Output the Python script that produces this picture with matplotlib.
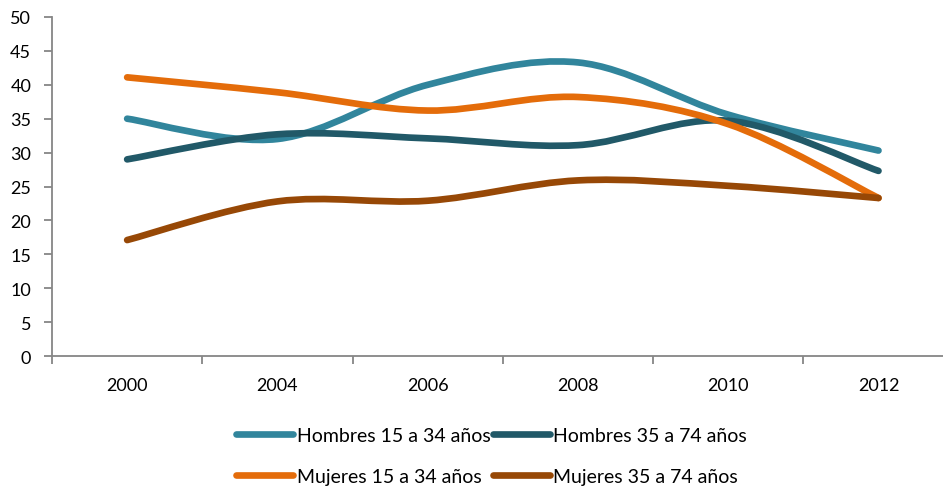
import numpy as np
import matplotlib
matplotlib.use("Agg")
import matplotlib.pyplot as plt
from matplotlib.path import Path
from matplotlib.patches import PathPatch
from matplotlib.lines import Line2D

plt.rcParams['font.family'] = ['Lato', 'DejaVu Sans']

years = ["2000", "2004", "2006", "2008", "2010", "2012"]
hombres_15_34 = [35.0, 32.0, 40.0, 43.3, 35.6, 30.3]
hombres_35_74 = [29.0, 32.7, 32.1, 31.1, 34.7, 27.3]
mujeres_15_34 = [41.1, 38.9, 36.2, 38.2, 34.2, 23.3]
mujeres_35_74 = [17.1, 22.8, 22.9, 25.9, 25.1, 23.3]

labels = ["Hombres 15 a 34 años", "Hombres 35 a 74 años",
          "Mujeres 15 a 34 años", "Mujeres 35 a 74 años"]
colors = ["#31859C", "#215968", "#E46C0A", "#974806"]
series = [hombres_15_34, hombres_35_74, mujeres_15_34, mujeres_35_74]

W, H = 943, 489
fig = plt.figure(figsize=(W / 100, H / 100), dpi=100)
ax = fig.add_axes([52 / W, 1 - 357 / H, 1 - 52 / W, (357 - 18) / H])

LW = 4.8


def smooth_path(xs, ys):
    """Cubic Bezier path through the points (Catmull-Rom style smoothing)."""
    pts = np.column_stack([xs, ys]).astype(float)
    n = len(pts)
    verts = [pts[0]]
    codes = [Path.MOVETO]
    for i in range(n - 1):
        p0 = pts[i - 1] if i > 0 else pts[i]
        p1 = pts[i]
        p2 = pts[i + 1]
        p3 = pts[i + 2] if i + 2 < n else pts[i + 1]
        c1 = p1 + (p2 - p0) / 6.0
        c2 = p2 - (p3 - p1) / 6.0
        verts += [c1, c2, p2]
        codes += [Path.CURVE4] * 3
    return Path(verts, codes)


x = np.arange(len(years))
for vals, col in zip(series, colors):
    patch = PathPatch(smooth_path(x, vals), facecolor="none", edgecolor=col,
                      lw=LW, capstyle="round", joinstyle="round", zorder=3)
    ax.add_patch(patch)

ax.set_yticks(np.arange(0, 51, 5))
ax.set_xticks(x)
ax.set_xticklabels(years)
ax.set_xticks(np.arange(-0.5, 5, 1), minor=True)
ax.set_xlim(-0.5, (W - 127) / 150.3)
ax.set_ylim(0, 50)

for s in ["top", "right"]:
    ax.spines[s].set_visible(False)
for s in ["left", "bottom"]:
    ax.spines[s].set_color("#868686")
    ax.spines[s].set_linewidth(1.3)

ax.tick_params(axis="y", which="major", length=6, width=1.3, color="#868686",
               labelsize=13, labelcolor="#000000", pad=9)
ax.tick_params(axis="x", which="major", length=0, labelsize=13, pad=15)
ax.tick_params(axis="x", which="minor", length=6, width=1.3, color="#868686")

# Legend: two rows of two entries, handle line followed by the label
entry_x = [(236, 293, 297), (493, 550, 553)]
row_y = [435, 476]
for k, (lab, col) in enumerate(zip(labels, colors)):
    r, c = divmod(k, 2)
    x0, x1, tx = entry_x[c]
    yy = 1 - row_y[r] / H
    fig.add_artist(Line2D([x0 / W, x1 / W], [yy, yy], color=col, lw=LW,
                          solid_capstyle="round", transform=fig.transFigure))
    fig.text(tx / W, yy, lab, fontsize=14, va="center_baseline", ha="left")

fig.savefig("out.png", dpi=100)
